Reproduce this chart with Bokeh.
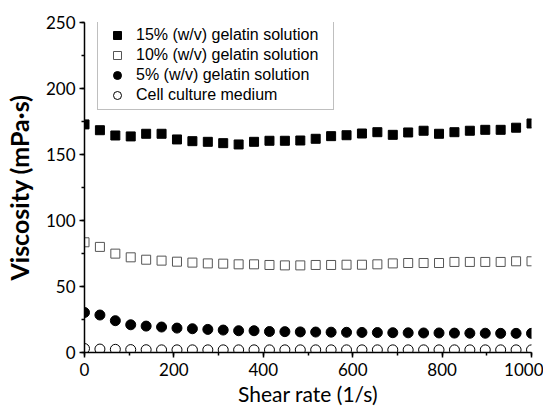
from bokeh.plotting import figure
from bokeh.models import Range1d, SingleIntervalTicker, Legend, LegendItem
from bokeh.embed import file_html
from bokeh.resources import INLINE

shear_rate = [0, 34.5, 69, 103.4, 137.9, 172.4, 206.9, 241.4, 275.9, 310.3,
              344.8, 379.3, 413.8, 448.3, 482.8, 517.2, 551.7, 586.2, 620.7, 655.2,
              689.7, 724.1, 758.6, 793.1, 827.6, 862.1, 896.6, 931.0, 965.5, 1000]

gel15 = [172.8, 168.4, 164.4, 163.7, 165.7, 165.7, 161.4, 160.1, 159.6, 158.6,
         157.6, 159.6, 160.4, 160.4, 160.6, 161.9, 163.9, 164.6, 165.9, 166.9,
         164.9, 166.7, 168.0, 165.7, 166.9, 168.0, 168.7, 168.7, 170.3, 173.5]

gel10 = [83.5, 80.0, 74.9, 72.1, 70.3, 69.6, 68.8, 68.1, 67.5, 67.3,
         66.8, 66.8, 66.3, 66.0, 66.0, 66.3, 66.3, 66.5, 66.5, 66.8,
         67.5, 67.8, 67.8, 67.8, 68.6, 68.6, 68.6, 68.6, 69.1, 69.1]

gel5 = [30.3, 28.4, 24.1, 21.0, 20.0, 19.3, 18.5, 18.0, 17.5, 17.0,
        16.5, 16.5, 15.9, 15.8, 15.6, 15.5, 15.4, 15.3, 15.2, 15.1,
        15.0, 14.9, 14.8, 14.8, 14.7, 14.6, 14.6, 14.5, 14.5, 14.5]

medium = [3.0, 2.6, 2.4, 2.2, 2.1, 2.0, 2.0, 2.0, 2.0, 2.0,
          2.0, 2.0, 2.0, 2.0, 2.0, 2.0, 2.0, 2.0, 2.0, 2.0,
          2.0, 2.0, 2.0, 2.0, 2.0, 2.0, 2.0, 2.0, 2.0, 2.0]

labels = ["15% (w/v) gelatin solution", "10% (w/v) gelatin solution",
          "5% (w/v) gelatin solution", "Cell culture medium"]

p = figure(frame_width=447, frame_height=330,
           min_border_left=82, min_border_right=12, min_border_top=22, min_border_bottom=50,
           x_range=Range1d(0, 1000), y_range=Range1d(0, 250),
           output_backend="svg", toolbar_location=None)
p.outline_line_color = None
p.xgrid.visible = False
p.ygrid.visible = False
p.background_fill_color = "white"
p.border_fill_color = "white"

r1 = p.scatter(shear_rate, gel15, marker="square", size=9, fill_color="black", line_color="black")
r2 = p.scatter(shear_rate, gel10, marker="square", size=9, fill_color="white", line_color="#555555", line_width=1)
r3 = p.scatter(shear_rate, gel5, marker="circle", size=10, fill_color="black", line_color="black")
r4 = p.scatter(shear_rate, medium, marker="circle", size=10, fill_color="white", line_color="black", line_width=1)

p.xaxis.ticker = SingleIntervalTicker(interval=200, num_minor_ticks=2)
p.yaxis.ticker = SingleIntervalTicker(interval=50, num_minor_ticks=2)

for ax in (p.xaxis[0], p.yaxis[0]):
    ax.axis_line_width = 1.5
    ax.axis_line_color = "black"
    ax.major_tick_line_width = 1.5
    ax.minor_tick_line_width = 1.5
    ax.major_tick_line_color = "black"
    ax.minor_tick_line_color = "black"
    ax.major_tick_out = 5
    ax.major_tick_in = 0
    ax.minor_tick_out = 3
    ax.minor_tick_in = 0
    ax.major_label_text_font = "Lato"
    ax.major_label_text_font_size = "17px"
    ax.major_label_text_color = "black"
    ax.axis_label_text_color = "black"

p.xaxis.major_label_standoff = 5
p.yaxis.major_label_standoff = 4

p.xaxis.axis_label = "Shear rate (1/s)"
p.xaxis.axis_label_text_font = "Lato"
p.xaxis.axis_label_text_font_size = "21px"
p.xaxis.axis_label_text_font_style = "normal"
p.xaxis.axis_label_standoff = 2

p.yaxis.axis_label = "Viscosity (mPa·s)"
p.yaxis.axis_label_text_font = "Lato"
p.yaxis.axis_label_text_font_size = "25px"
p.yaxis.axis_label_text_font_style = "bold"
p.yaxis.axis_label_standoff = 9

legend = Legend(items=[LegendItem(label=labels[0], renderers=[r1]),
                       LegendItem(label=labels[1], renderers=[r2]),
                       LegendItem(label=labels[2], renderers=[r3]),
                       LegendItem(label=labels[3], renderers=[r4])],
                location=(13, 242), padding=4, spacing=0, margin=0,
                label_height=20, glyph_height=20, glyph_width=30,
                label_standoff=4, label_width=193,
                label_text_font="Liberation Sans", label_text_font_size="16px",
                label_text_color="black",
                border_line_color="#808080", border_line_width=1,
                background_fill_color="white", background_fill_alpha=1)
p.add_layout(legend, "center")

open("out.html", "w").write(file_html(p, INLINE))
